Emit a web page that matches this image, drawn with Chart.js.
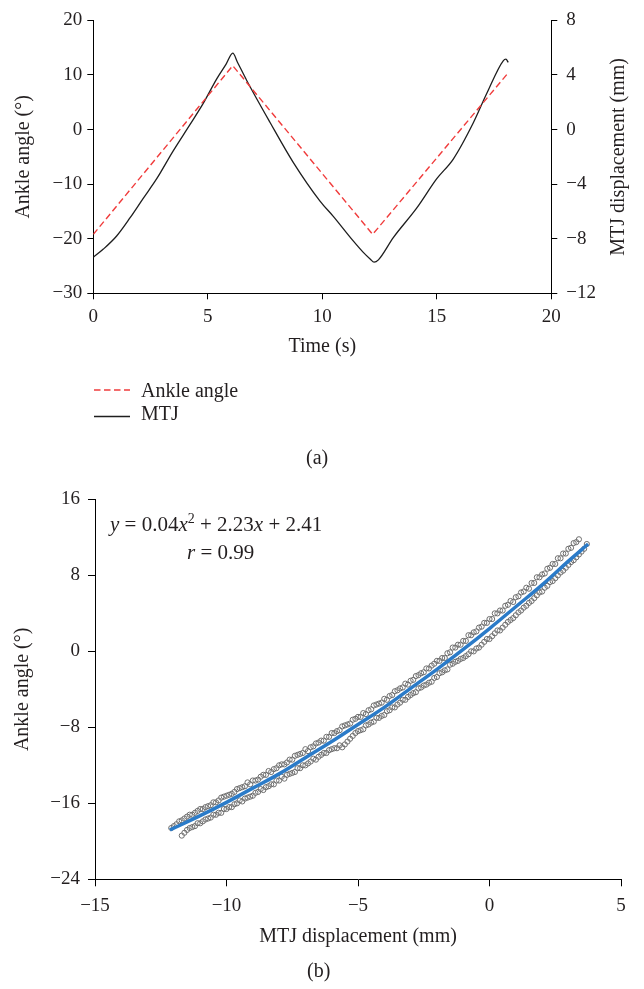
<!DOCTYPE html>
<html><head><meta charset="utf-8">
<script src="https://cdn.jsdelivr.net/npm/chart.js@4.4.1/dist/chart.umd.min.js"></script>
<style>
body{margin:0;background:#fff;}
#wrap{position:relative;width:644px;height:989px;overflow:hidden;font-family:"Liberation Serif","Times New Roman",serif;color:#231f20;}
canvas{position:absolute;left:0;}
#ca{top:0;}
#cb{top:480px;}
.t{position:absolute;white-space:nowrap;font-size:20px;line-height:20px;}
.eq{font-size:21px;}
.t sup{font-size:14px;line-height:0;vertical-align:8px;}
</style></head><body>
<div id="wrap">
<canvas id="ca" width="644" height="370"></canvas>
<canvas id="cb" width="644" height="475"></canvas>
<svg style="position:absolute;left:0;top:0" width="644" height="989">
 <line x1="94" y1="390" x2="130" y2="390" stroke="#f03c3c" stroke-width="1.4" stroke-dasharray="6.5,3.5"/>
 <line x1="94" y1="416.5" x2="130" y2="416.5" stroke="#1e1e1e" stroke-width="1.4"/>
</svg>
<div class="t" style="left:141px;top:380px">Ankle angle</div>
<div class="t" style="left:141px;top:403px">MTJ</div>
<div class="t" style="left:306px;top:447px">(a)</div>
<div class="t" style="left:307px;top:960px">(b)</div>
<div class="t eq" style="left:110px;top:514px"><i>y</i> = 0.04<i>x</i><sup>2</sup> + 2.23<i>x</i> + 2.41</div>
<div class="t eq" style="left:187px;top:542px"><i>r</i> = 0.99</div>
</div>
<script>
// ---------- data: chart (a) ----------
const timeAnkle = [0, 6.09, 12.2, 18.1];
const ankleAngle = [-19.2, 11.7, -19.2, 10.3];
const timeMTJ = [0, 0.44, 1.02, 1.6, 2.18, 2.77, 3.49, 4.22, 4.8, 5.39, 5.8, 6.09, 6.3, 6.7, 7.72, 8.73, 9.9, 10.48, 11.35, 11.79, 12.1, 12.26, 12.45, 13.1, 14.12, 15.0, 15.72, 16.59, 17.18, 17.9, 18.02, 18.12];
const mtjDisp = [-9.36, -8.76, -7.80, -6.48, -5.04, -3.60, -1.56, 0.36, 1.92, 3.72, 4.80, 5.60, 4.92, 3.60, 0.52, -2.40, -5.24, -6.36, -8.16, -9.00, -9.50, -9.72, -9.55, -7.92, -5.76, -3.60, -2.16, 0.48, 2.64, 5.04, 5.16, 4.92];
const timeTicks = [0, 5, 10, 15, 20];
const angleTicksA = [-30, -20, -10, 0, 10, 20];
const mtjTicks = [-12, -8, -4, 0, 4, 8];

// ---------- data: chart (b) ----------
const upperX = [-12.1,-11.9,-11.7,-11.5,-11.3,-11.1,-10.9,-10.7,-10.5,-10.3,-10.1,-9.9,-9.7,-9.5,-9.3,-9.1,-8.9,-8.7,-8.5,-8.3,-8.1,-7.9,-7.7,-7.5,-7.3,-7.1,-6.9,-6.7,-6.5,-6.3,-6.1,-5.9,-5.7,-5.5,-5.3,-5.1,-4.9,-4.7,-4.5,-4.3,-4.1,-3.9,-3.7,-3.5,-3.3,-3.1,-2.9,-2.7,-2.5,-2.3,-2.1,-1.9,-1.7,-1.5,-1.3,-1.1,-0.9,-0.7,-0.5,-0.3,-0.1,0.1,0.3,0.5,0.7,0.9,1.1,1.3,1.5,1.7,1.9,2.1,2.3,2.5,2.7,2.9,3.1,3.3];
const upperY = [-18.6,-18.2,-17.8,-17.4,-17.2,-16.8,-16.6,-16.3,-15.9,-15.7,-15.3,-15.1,-14.8,-14.4,-14.2,-14.0,-13.6,-13.2,-13.0,-12.7,-12.3,-11.9,-11.7,-11.4,-10.9,-10.7,-10.5,-10.0,-9.6,-9.4,-9.0,-8.6,-8.3,-7.8,-7.6,-7.1,-6.9,-6.6,-6.1,-5.6,-5.4,-5.1,-4.6,-4.1,-3.8,-3.5,-3.0,-2.5,-2.2,-1.8,-1.3,-1.0,-0.7,-0.1,0.4,0.7,1.1,1.7,2.1,2.6,3.0,3.4,4.0,4.3,4.9,5.2,5.8,6.3,6.6,7.2,7.8,8.2,8.8,9.2,9.8,10.3,10.9,11.5];
const upper2X = [-12.0,-11.8,-11.6,-11.4,-11.2,-11.0,-10.8,-10.6,-10.4,-10.2,-10.0,-9.8,-9.6,-9.4,-9.2,-9.0,-8.8,-8.6,-8.4,-8.2,-8.0,-7.8,-7.6,-7.4,-7.2,-7.0,-6.8,-6.6,-6.4,-6.2,-6.0,-5.8,-5.6,-5.4,-5.2,-5.0,-4.8,-4.6,-4.4,-4.2,-4.0,-3.8,-3.6,-3.4,-3.2,-3.0,-2.8,-2.6,-2.4,-2.2,-2.0,-1.8,-1.6,-1.4,-1.2,-1.0,-0.8,-0.6,-0.4,-0.2,0.0,0.2,0.4,0.6,0.8,1.0,1.2,1.4,1.6,1.8,2.0,2.2,2.4,2.6,2.8,3.0,3.2,3.4];
const upper2Y = [-18.4,-17.9,-17.6,-17.2,-17.0,-16.6,-16.4,-16.2,-15.9,-15.4,-15.2,-15.0,-14.5,-14.3,-13.8,-13.6,-13.5,-13.0,-12.6,-12.4,-12.0,-11.9,-11.4,-11.0,-10.8,-10.3,-10.1,-9.7,-9.4,-9.0,-8.6,-8.4,-7.9,-7.7,-7.2,-6.9,-6.5,-6.2,-5.7,-5.5,-5.0,-4.7,-4.2,-3.9,-3.4,-3.1,-2.6,-2.3,-1.8,-1.5,-1.0,-0.7,-0.2,0.4,0.7,1.1,1.7,2.0,2.5,3.0,3.4,4.0,4.3,4.8,5.3,5.7,6.2,6.7,7.2,7.8,8.1,8.7,9.2,9.8,10.3,10.8,11.4,11.8];
const lowerX = [-11.7,-11.5,-11.3,-11.1,-10.9,-10.7,-10.5,-10.3,-10.1,-9.9,-9.7,-9.5,-9.3,-9.1,-8.9,-8.7,-8.5,-8.3,-8.1,-7.9,-7.7,-7.5,-7.3,-7.1,-6.9,-6.7,-6.5,-6.3,-6.1,-5.9,-5.7,-5.5,-5.3,-5.1,-4.9,-4.7,-4.5,-4.3,-4.1,-3.9,-3.7,-3.5,-3.3,-3.1,-2.9,-2.7,-2.5,-2.3,-2.1,-1.9,-1.7,-1.5,-1.3,-1.1,-0.9,-0.7,-0.5,-0.3,-0.1,0.1,0.3,0.5,0.7,0.9,1.1,1.3,1.5,1.7,1.9,2.1,2.3,2.5,2.7,2.9,3.1,3.3,3.5,3.7];
const lowerY = [-19.4,-18.8,-18.5,-18.1,-17.9,-17.6,-17.2,-17.0,-16.6,-16.4,-16.1,-15.7,-15.5,-15.3,-14.9,-14.5,-14.3,-14.0,-13.6,-13.2,-13.0,-12.8,-12.3,-12.0,-11.8,-11.3,-11.1,-10.7,-10.4,-10.2,-9.9,-9.8,-9.2,-8.6,-8.3,-7.8,-7.5,-7.0,-6.8,-6.3,-5.9,-5.6,-5.1,-4.8,-4.4,-3.9,-3.6,-3.3,-2.8,-2.3,-2.0,-1.4,-1.1,-0.8,-0.5,0.0,0.3,0.7,1.3,1.6,2.2,2.5,3.1,3.5,4.1,4.6,5.1,5.6,6.2,6.7,7.3,7.7,8.3,8.8,9.4,9.9,10.5,11.3];
const lower2X = [-11.6,-11.4,-11.2,-11.0,-10.8,-10.6,-10.4,-10.2,-10.0,-9.8,-9.6,-9.4,-9.2,-9.0,-8.8,-8.6,-8.4,-8.2,-8.0,-7.8,-7.6,-7.4,-7.2,-7.0,-6.8,-6.6,-6.4,-6.2,-6.0,-5.8,-5.6,-5.4,-5.2,-5.0,-4.8,-4.6,-4.4,-4.2,-4.0,-3.8,-3.6,-3.4,-3.2,-3.0,-2.8,-2.6,-2.4,-2.2,-2.0,-1.8,-1.6,-1.4,-1.2,-1.0,-0.8,-0.6,-0.4,-0.2,0.0,0.2,0.4,0.6,0.8,1.0,1.2,1.4,1.6,1.8,2.0,2.2,2.4,2.6,2.8,3.0,3.2,3.4,3.6];
const lower2Y = [-19.1,-18.6,-18.4,-18.1,-17.7,-17.5,-17.2,-17.0,-16.6,-16.4,-16.0,-15.8,-15.4,-15.2,-14.8,-14.6,-14.2,-14.0,-13.6,-13.4,-12.9,-12.7,-12.3,-12.0,-11.6,-11.4,-10.9,-10.7,-10.3,-10.2,-10.1,-9.5,-8.9,-8.4,-8.2,-7.7,-7.4,-7.0,-6.7,-6.2,-5.9,-5.4,-5.1,-4.6,-4.3,-3.8,-3.5,-3.2,-2.7,-2.2,-1.9,-1.3,-1.0,-0.7,-0.3,0.0,0.4,1.0,1.3,1.9,2.2,2.8,3.3,3.8,4.3,4.8,5.3,5.9,6.3,6.9,7.4,8.0,8.5,9.1,9.6,10.2,10.8];
const fitX = [-12.15,-11,-10,-9,-8,-7,-6,-5,-4,-3,-2,-1,0,1,2,3,3.75];
const fitY = [-18.8,-17.3,-15.9,-14.4,-12.9,-11.2,-9.5,-7.7,-5.9,-3.9,-1.9,0.2,2.4,4.7,7.0,9.5,11.3];
const mtjTicksB = [-15, -10, -5, 0, 5];
const angleTicksB = [-24, -16, -8, 0, 8, 16];

// ---------- helpers ----------
const SERIF = '"Liberation Serif","Times New Roman",serif';
const INK = '#231f20';
const fmt = v => (v < 0 ? '\u2212' + Math.abs(v) : String(v));
const pts = (xs, ys) => xs.map((x, i) => ({x: x, y: ys[i]}));
function axis(o) {
  return {
    type: 'linear', position: o.position, min: o.min, max: o.max,
    afterBuildTicks: s => { s.ticks = o.ticks.map(v => ({value: v})); },
    afterFit: s => { if (o.width !== undefined) s.width = o.width; if (o.height !== undefined) s.height = o.height; },
    grid: {display: true, drawOnChartArea: false, drawTicks: true, tickLength: o.tl, color: '#000', lineWidth: 1},
    border: {display: true, color: '#000', width: 1},
    ticks: {font: {family: SERIF, size: 19}, color: INK, padding: o.pad, maxRotation: 0, autoSkip: false, callback: v => fmt(v)},
    title: o.title ? {display: true, text: o.title, color: INK, font: {family: SERIF, size: 20}, padding: o.tpad} : {display: false}
  };
}
const rightTitle = {
  id: 'rightTitle',
  afterDraw(chart) {
    const c = chart.ctx, a = chart.chartArea;
    c.save();
    c.font = '20px ' + SERIF; c.fillStyle = INK; c.textAlign = 'center'; c.textBaseline = 'middle';
    c.translate(619, (a.top + a.bottom) / 2); c.rotate(-Math.PI / 2);
    c.fillText('MTJ displacement (mm)', 0, 0);
    c.restore();
  }
};
const ring = {pointRadius: 2.6, pointBorderColor: '#6f6f6f', pointBackgroundColor: 'rgba(255,255,255,0)', pointBorderWidth: 1, order: 1};

// ---------- chart (a) ----------
new Chart(document.getElementById('ca'), {
  type: 'line',
  data: {datasets: [
    {label: 'Ankle angle', data: pts(timeAnkle, ankleAngle), yAxisID: 'y', borderColor: '#f03c3c', borderWidth: 1.4, borderDash: [6.5, 3.5], pointRadius: 0, tension: 0, fill: false},
    {label: 'MTJ', data: pts(timeMTJ, mtjDisp), yAxisID: 'y1', borderColor: '#1e1e1e', borderWidth: 1.3, pointRadius: 0, cubicInterpolationMode: 'monotone', fill: false}
  ]},
  options: {
    responsive: false, animation: false, events: [],
    layout: {padding: {top: 15, left: 0, right: 0, bottom: 0}},
    plugins: {legend: {display: false}, tooltip: {enabled: false}},
    scales: {
      x: axis({position: 'bottom', min: 0, max: 20, ticks: timeTicks, height: 76.7, tl: 6, pad: 6, title: 'Time (s)', tpad: {top: 0, bottom: 11}}),
      y: axis({position: 'left', min: -30, max: 20, ticks: angleTicksA, width: 93.3, tl: 6, pad: 5, title: 'Ankle angle (°)', tpad: {top: 12, bottom: 0}}),
      y1: axis({position: 'right', min: -12, max: 8, ticks: mtjTicks, width: 92.7, tl: 6, pad: 9})
    }
  },
  plugins: [rightTitle]
});

// ---------- chart (b) ----------
new Chart(document.getElementById('cb'), {
  type: 'scatter',
  data: {datasets: [
    {label: 'Fit', data: pts(fitX, fitY), showLine: true, borderColor: '#2b7bc8', borderWidth: 3.5, pointRadius: 0, tension: 0.4, order: 0},
    Object.assign({label: 'Loading 1', data: pts(upperX, upperY)}, ring),
    Object.assign({label: 'Loading 2', data: pts(upper2X, upper2Y)}, ring),
    Object.assign({label: 'Unloading 1', data: pts(lowerX, lowerY)}, ring),
    Object.assign({label: 'Unloading 2', data: pts(lower2X, lower2Y)}, ring)
  ]},
  options: {
    responsive: false, animation: false, events: [],
    layout: {padding: {top: 16, left: 0, right: 23, bottom: 0}},
    plugins: {legend: {display: false}, tooltip: {enabled: false}},
    scales: {
      x: axis({position: 'bottom', min: -15, max: 5, ticks: mtjTicksB, height: 75.7, tl: 7, pad: 8, title: 'MTJ displacement (mm)', tpad: {top: 0, bottom: 6}}),
      y: axis({position: 'left', min: -24, max: 16, ticks: angleTicksB, width: 95, tl: 7, pad: 8, title: 'Ankle angle (°)', tpad: {top: 11, bottom: 0}})
    }
  }
});
</script>
</body></html>
